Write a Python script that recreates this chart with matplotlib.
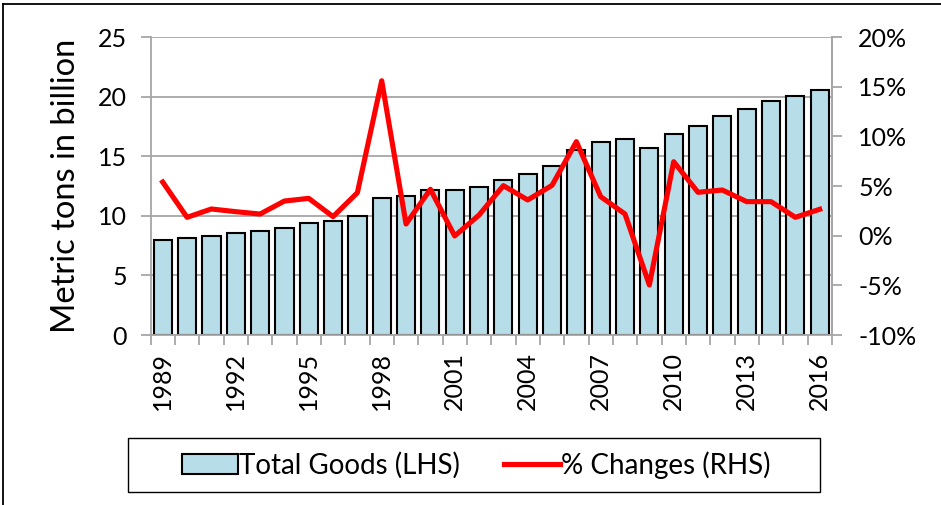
import matplotlib.pyplot as plt
import matplotlib.lines as mlines
import matplotlib.patches as mpatches
import numpy as np

plt.rcParams['font.family'] = ['Lato', 'DejaVu Sans']

# data
years = list(range(1989, 2017))
total_goods = [7.96, 8.12, 8.32, 8.54, 8.74, 9.02, 9.38, 9.55, 9.97, 11.53,
               11.67, 12.2, 12.2, 12.42, 13.04, 13.54, 14.21, 15.55, 16.16, 16.47,
               15.69, 16.83, 17.53, 18.34, 18.98, 19.62, 20.04, 20.52]
pct_change = [5.4, 1.85, 2.69, 2.42, 2.18, 3.49, 3.76, 1.92, 4.33, 15.6,
              1.18, 4.67, -0.03, 2.08, 5.04, 3.6, 5.07, 9.47, 3.93, 2.18,
              -4.96, 7.45, 4.37, 4.6, 3.43, 3.43, 1.85, 2.66]
left_ticks = [0, 5, 10, 15, 20, 25]
right_ticks = [-10, -5, 0, 5, 10, 15, 20]

grey = '#a6a6a6'
fs = 18
W, H = 941, 505

fig = plt.figure(figsize=(W / 100, H / 100), dpi=100)
ax = fig.add_axes([0.160, 0.3366, 0.724, 0.590])
x = np.arange(len(years))

bars = ax.bar(x, total_goods, width=0.75, color='#b7dde8', edgecolor='black',
              linewidth=1.5, zorder=2, label='Total Goods (LHS)')
ax.set_xlim(-0.5, len(years) - 0.5)
ax.set_ylim(0, 25)
ax.set_yticks(left_ticks)
ax.yaxis.grid(True, color=grey, linewidth=1.3, zorder=0)
ax.set_axisbelow(True)
ax.set_xticks(np.arange(-0.5, len(years), 1))
ax.set_xticklabels([])
ax.set_xticks(x[::3], minor=True)
ax.set_xticklabels([str(y) for y in years[::3]], minor=True, rotation=90, fontsize=fs)
ax.tick_params(axis='x', which='major', length=7, color=grey, width=1.3)
ax.tick_params(axis='x', which='minor', length=0, pad=12)
ax.tick_params(axis='y', length=7, color=grey, width=1.3, labelsize=fs, pad=10)
ax.set_ylabel('Metric tons in billion', fontsize=23.5, labelpad=12)
for s in ['left', 'right', 'bottom']:
    ax.spines[s].set_color(grey)
    ax.spines[s].set_linewidth(1.3)
ax.spines['top'].set_visible(False)

ax2 = ax.twinx()
line, = ax2.plot(x, pct_change, color='#ff0000', linewidth=3.7, zorder=3,
                 label='% Changes (RHS)')
ax2.set_ylim(-10, 20)
ax2.set_yticks(right_ticks)
ax2.set_yticklabels([f'{t}%' for t in right_ticks])
ax2.tick_params(axis='y', length=7, color=grey, width=1.3, labelsize=fs, pad=12)
for s in ax2.spines.values():
    s.set_visible(False)
ax2.spines['right'].set_visible(True)
ax2.spines['right'].set_color(grey)
ax2.spines['right'].set_linewidth(1.3)

# legend (frame drawn separately, it is wider than the entries)
leg = fig.legend([bars, line], ['Total Goods (LHS)', '% Changes (RHS)'],
                 loc='center', bbox_to_anchor=(476.5 / W, 1 - 465 / H), ncol=2,
                 fontsize=20, frameon=False, handlelength=2.0, handleheight=0.75,
                 handletextpad=0.05, columnspacing=1.6)
fig.add_artist(mpatches.Rectangle((128 / W, 1 - 492 / H), 692 / W, 54 / H,
                                  transform=fig.transFigure, fill=False,
                                  edgecolor='black', linewidth=1.0))

# outer frame of the chart (top and left edges visible)
fig.add_artist(mlines.Line2D([0.003, 1], [0.992, 0.992], color='black', lw=1.3))
fig.add_artist(mlines.Line2D([0.0035, 0.0035], [0, 0.992], color='black', lw=1.3))

fig.savefig('out.png', dpi=100)
